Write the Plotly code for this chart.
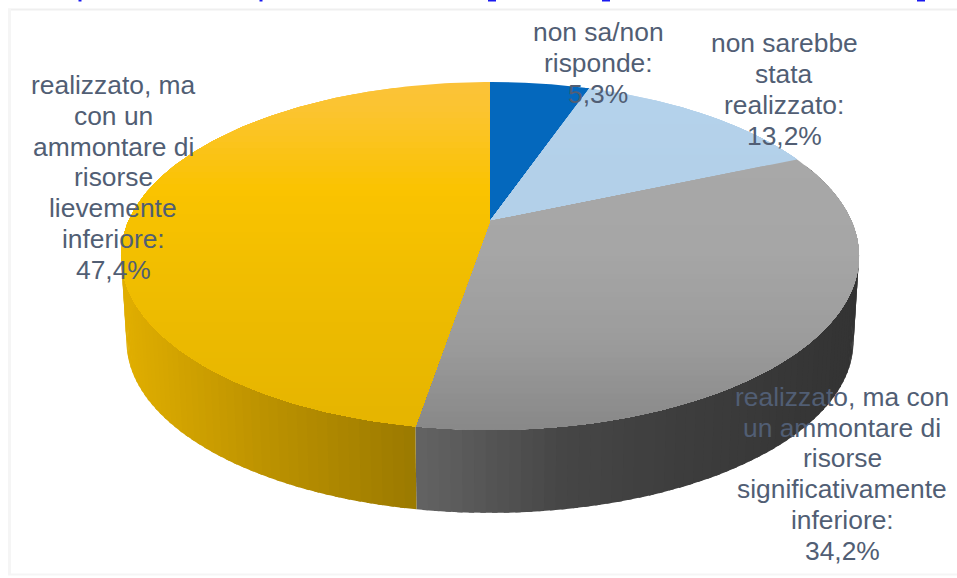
import numpy as np
import plotly.graph_objects as go

# Survey shares, clockwise from twelve o'clock
categories = [
    "non sa/non risponde",
    "non sarebbe stata realizzato",
    "realizzato, ma con un ammontare di risorse significativamente inferiore",
    "realizzato, ma con un ammontare di risorse lievemente inferiore",
]
values = [5.3, 13.2, 34.2, 47.4]
value_labels = ["5,3%", "13,2%", "34,2%", "47,4%"]
label_lines = [
    ["non sa/non", "risponde:"],
    ["non sarebbe", "stata", "realizzato:"],
    ["realizzato, ma con", "un ammontare di", "risorse", "significativamente", "inferiore:"],
    ["realizzato, ma", "con un", "ammontare di", "risorse", "lievemente", "inferiore:"],
]
label_anchor = [(598, 32), (784, 43), (842, 397), (113, 85)]
label_step = [31, 31, 30.7, 30.8]

# Descender stubs of the heading line cut off by the top of the page
heading_stubs = [(78.5, 81.5, 1.5), (259.5, 262.5, 1.5), (488, 496, 1.5), (602, 610, 1.5), (917, 925, 1.5)]

# Disc projection: a tilted circle seen in perspective, in page pixels
CX, CY, RX, RY, PERSP = 490.0, 221.0, 361.5, 167.0, 0.201
DEPTH, BASE_SCALE = 86.0, 0.985

FACE_STOPS = [
    ([0, 80], ["#0468bd", "#0468bd"]),
    ([80, 170], ["#b5d3ec", "#b3d0e9"]),
    ([150, 250, 340, 430], ["#a8a8a8", "#a6a6a6", "#9c9c9c", "#888888"]),
    ([80, 110, 190, 300, 430], ["#fbc23a", "#fbc430", "#fac300", "#eebc00", "#e5b400"]),
]
WALL_STOPS = [
    None,
    None,
    ([417, 560, 700, 860], ["#636363", "#464646", "#3c3c3c", "#333333"]),
    ([123, 250, 417], ["#e0ae00", "#bf9400", "#9a7900"]),
]


def project(theta, scale=1.0, drop=0.0):
    t = np.radians(theta)
    xp, yp = np.sin(t), np.cos(t)
    w = 1 + PERSP * yp
    return CX + scale * RX * xp / w, CY + drop - scale * RY * yp / w


def blend(pos, stops):
    xs, cols = stops
    rgb = [[int(c[i:i + 2], 16) for i in (1, 3, 5)] for c in cols]
    vals = [int(round(np.interp(pos, xs, [c[k] for c in rgb]))) for k in range(3)]
    return "#%02x%02x%02x" % tuple(vals)


def clip_below(px, py, limit):
    """Keep the part of a closed polygon with y >= limit."""
    out_x, out_y = [], []
    n = len(px)
    for i in range(n):
        x0, y0, x1, y1 = px[i], py[i], px[(i + 1) % n], py[(i + 1) % n]
        if y0 >= limit:
            out_x.append(x0)
            out_y.append(y0)
        if (y0 >= limit) != (y1 >= limit):
            f = (limit - y0) / (y1 - y0)
            out_x.append(x0 + f * (x1 - x0))
            out_y.append(limit)
    return out_x, out_y


def polygon(xs, ys, color):
    return go.Scatter(
        x=list(xs) + [xs[0]], y=list(ys) + [ys[0]], mode="lines", fill="toself",
        fillcolor=color, line=dict(width=0), hoverinfo="skip", showlegend=False,
    )


fig = go.Figure()
edges = np.concatenate([[0], np.cumsum(values)]) / np.sum(values) * 360

# Side wall, built from thin overlapping strips
for i, stops in enumerate(WALL_STOPS):
    if stops is None:
        continue
    angles = np.arange(edges[i], edges[i + 1], 1.5)
    for a in angles:
        if np.cos(np.radians(a)) > 0.35:
            continue
        arc = np.array([a, min(a + 2.2, edges[i + 1])])
        tx, ty = project(arc)
        bx, by = project(arc, BASE_SCALE, DEPTH)
        xs = list(tx) + list(bx[::-1])
        ys = list(ty) + list(by[::-1])
        fig.add_trace(polygon(xs, ys, blend(np.mean(tx), stops)))

# Top face of each slice, shaded downward by repainting ever smaller clips
for i, stops in enumerate(FACE_STOPS):
    arc = np.linspace(edges[i], edges[i + 1], 160)
    ax, ay = project(arc)
    px, py = [CX] + list(ax), [CY] + list(ay)
    top, bottom = min(py), max(py)
    for limit in np.arange(top, bottom, 6.0):
        cx, cy = clip_below(px, py, limit)
        if len(cx) >= 3:
            fig.add_trace(polygon(cx, cy, blend(limit + 3, stops)))

# Data labels, one line of text at a time
annotations = []
for lines, tail, (ax0, ay0), step in zip(label_lines, value_labels, label_anchor, label_step):
    for k, text in enumerate(lines + [tail]):
        annotations.append(dict(
            x=ax0, y=ay0 + k * step, text=text, showarrow=False, xref="x", yref="y",
            xanchor="center", yanchor="middle",
            font=dict(family="Liberation Sans", size=26.4, color="#515e74"),
        ))

frame = dict(type="line", xref="x", yref="y", layer="below")
shapes = [
    dict(frame, x0=8, x1=957, y0=9.5, y1=9.5, line=dict(color="#efefef", width=2)),
    dict(frame, x0=9.5, x1=9.5, y0=9, y1=574, line=dict(color="#f5f5f5", width=3)),
    dict(frame, x0=8, x1=957, y0=574.5, y1=574.5, line=dict(color="#f5f5f5", width=2)),
]
for x0, x1, h in heading_stubs:
    shapes.append(dict(type="rect", xref="x", yref="y", x0=x0, x1=x1, y0=0, y1=h,
                       fillcolor="#1a1af0", line=dict(width=0)))

fig.update_layout(
    width=957, height=578, margin=dict(l=0, r=0, t=0, b=0),
    paper_bgcolor="white", plot_bgcolor="white", showlegend=False,
    xaxis=dict(range=[0, 957], visible=False, fixedrange=True),
    yaxis=dict(range=[578, 0], visible=False, fixedrange=True),
    annotations=annotations, shapes=shapes,
)
fig.write_html("out.html", config=dict(displayModeBar=False))
